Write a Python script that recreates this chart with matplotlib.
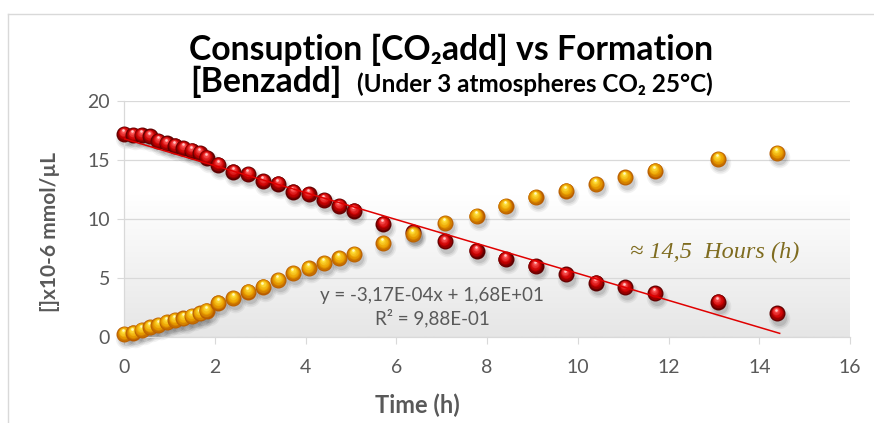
import numpy as np
import matplotlib
matplotlib.use("Agg")
import matplotlib.pyplot as plt
from matplotlib.colors import LinearSegmentedColormap, to_rgb
from matplotlib.transforms import ScaledTranslation

# time (h) and concentrations ([]x10-6 mmol/uL)
time_h = [0.00, 0.20, 0.39, 0.57, 0.76, 0.94, 1.12, 1.31, 1.49, 1.67, 1.82,
          2.08, 2.41, 2.74, 3.07, 3.40, 3.73, 4.07, 4.41, 4.74, 5.07,
          5.71, 6.37, 7.07, 7.77, 8.41, 9.07, 9.74, 10.40, 11.04, 11.70,
          13.09, 14.39]
co2_add = [17.2, 17.1, 17.1, 17.0, 16.6, 16.4, 16.2, 16.0, 15.8, 15.6, 15.2,
           14.6, 14.0, 13.8, 13.2, 13.0, 12.3, 12.1, 11.6, 11.1, 10.7,
           9.6, 8.9, 8.1, 7.3, 6.6, 6.0, 5.3, 4.6, 4.2, 3.7,
           3.0, 2.0]
benz_add = [0.25, 0.36, 0.59, 0.82, 1.02, 1.25, 1.44, 1.58, 1.78, 2.00, 2.23,
            2.90, 3.28, 3.84, 4.26, 4.83, 5.40, 5.82, 6.25, 6.67, 7.03,
            7.94, 8.73, 9.64, 10.25, 11.10, 11.84, 12.40, 12.97, 13.53, 14.10,
            15.08, 15.60]

# linear fit on CO2 consumption, x in seconds
fit_slope = -3.17e-4
fit_intercept = 16.8
fit_r2 = 0.988
fit_end_h = 14.45

x_ticks = [0, 2, 4, 6, 8, 10, 12, 14, 16]
y_ticks = [0, 5, 10, 15, 20]

GRAY_TXT = "#595959"
GRID = "#d9d9d9"

plt.rcParams["font.family"] = ["Lato", "DejaVu Sans"]

fig = plt.figure(figsize=(8.74, 4.23), dpi=100)
W, H = 874, 423
ax = fig.add_axes([124 / W, 1 - 337 / H, 726 / W, 236 / H])

# soft gray gradient at the bottom of the plot area
yy = np.linspace(0, 20, 200)
shade = np.clip(1 - yy / 12.0, 0, 1)[:, None]
cmap = LinearSegmentedColormap.from_list("bg", ["#ffffff", "#e6e6e6"])
ax.imshow(shade, extent=[0, 16, 0, 20], origin="lower", aspect="auto",
          cmap=cmap, vmin=0, vmax=1, zorder=0)

ax.set_xlim(0, 16)
ax.set_ylim(0, 20)
ax.set_xticks(x_ticks)
ax.set_yticks(y_ticks)
ax.yaxis.grid(True, color=GRID, lw=0.9, zorder=1)
ax.set_axisbelow(True)
for side in ("top", "right"):
    ax.spines[side].set_visible(False)
for side in ("bottom", "left"):
    ax.spines[side].set_color(GRID)
    ax.spines[side].set_linewidth(0.9)
ax.tick_params(axis="both", direction="out", length=5, color=GRID,
               labelcolor=GRAY_TXT, labelsize=14)
ax.tick_params(axis="x", pad=11)
ax.tick_params(axis="y", pad=5)


def mix(c1, c2, t):
    a, b = np.array(to_rgb(c1)), np.array(to_rgb(c2))
    return tuple(a + (b - a) * t)


def offset(dx, dy):
    return ax.transData + ScaledTranslation(dx / 72, dy / 72, fig.dpi_scale_trans)


def draw_shadows(xs, ys, diam):
    for f, a in ((1.35, 0.05), (1.15, 0.07), (0.95, 0.09)):
        ax.scatter(xs, ys, s=(diam * f) ** 2, color="black", alpha=a, lw=0,
                   transform=offset(1.5, -3.0), zorder=2, clip_on=False)


def draw_spheres(xs, ys, diam, dark, mid, light, spec, z0):
    n = 9
    for i, (x, y) in enumerate(zip(xs, ys)):
        for k in range(n):
            t = k / (n - 1)
            if t < 0.45:
                col = mix(dark, mid, t / 0.45)
            else:
                col = mix(mid, light, (t - 0.45) / 0.55)
            d = diam * (1 - 0.78 * t)
            ax.scatter([x], [y], s=d ** 2, color=col, lw=0,
                       transform=offset(-0.6 * t, 2.4 * t),
                       zorder=z0 + i * 0.001 + k * 0.0001, clip_on=False)
        ax.scatter([x], [y], s=(diam * 0.16) ** 2, color=spec, lw=0,
                   transform=offset(-0.6, 2.8),
                   zorder=z0 + i * 0.001 + n * 0.0001, clip_on=False)


diam = 11.5
draw_shadows(time_h, co2_add, diam)
draw_shadows(time_h, benz_add, diam)
draw_spheres(time_h, co2_add, diam, "#5c0000", "#cc0000", "#ff5a5a", "#ffc8c8", 3)
draw_spheres(time_h, benz_add, diam, "#b85c00", "#eca200", "#ffe23c", "#fff8c0", 4)

# trendline (fit made with time in seconds)
fit_t = np.array([0.0, fit_end_h])
fit_y = fit_intercept + fit_slope * fit_t * 3600
ax.plot(fit_t, fit_y, color="#e00000", lw=1.1, zorder=6)

fig.text(432 / W, 1 - 295 / H, "y = -3,17E-04x + 1,68E+01", ha="center",
         va="center", fontsize=13.5, color=GRAY_TXT)
fig.text(432 / W, 1 - 318 / H, "R² = 9,88E-01", ha="center",
         va="center", fontsize=13.5, color=GRAY_TXT)
fig.text(630 / W, 1 - 252 / H, "≈ 14,5  Hours (h)", ha="left", va="center",
         fontsize=17.5, style="italic", color="#7f6c20",
         family=["Liberation Serif", "DejaVu Serif"])

# title
fig.text(451.5 / W, 1 - 60 / H, "Consuption [CO₂add] vs Formation", ha="center",
         va="baseline", fontsize=24.3, weight="bold", color="black")
fig.text(190 / W, 1 - 92 / H, "[Benzadd]", ha="left", va="baseline",
         fontsize=24.3, weight="bold", color="black")
fig.text(713 / W, 1 - 92 / H, "(Under 3 atmospheres CO₂ 25°C)", ha="right",
         va="baseline", fontsize=17.5, weight="bold", color="black")

fig.text(417 / W, 1 - 405 / H, "Time (h)", ha="center", va="center",
         fontsize=17, weight="bold", color=GRAY_TXT)
fig.text(50 / W, 1 - 232 / H, "[]x10-6 mmol/µL", rotation=90, ha="center",
         va="center", fontsize=15, weight="bold", color=GRAY_TXT)

# outer chart frame
fig.add_artist(plt.Line2D([8 / W, 1], [1 - 14 / H, 1 - 14 / H], color=GRID, lw=1))
fig.add_artist(plt.Line2D([8 / W, 8 / W], [0, 1 - 14 / H], color=GRID, lw=1))

fig.savefig("out.png", dpi=100)
